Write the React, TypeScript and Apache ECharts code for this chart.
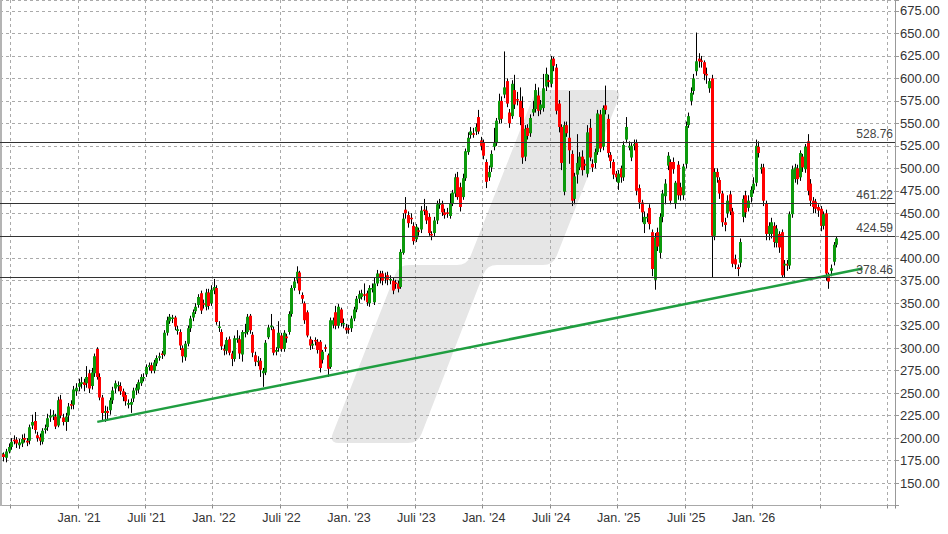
import React, { useEffect, useRef } from "react";
import * as echarts from "echarts";

// ---------- data ----------
// weekly candles: [open, close, low, high]
const candlesA: number[][] = [
  [179,183,176,186],[182,179,174,184],[178,185,173,188],[185,190,183,194],[190,196,187,200],
  [198,197,193,203],[198,194,189,201],[192,195,188,199],[194,199,190,204],[200,198,195,205],
  [197,195,191,200],[197,212,193,215],[214,218,210,226],[219,209,205,229],[203,200,196,207],
  [201,197,192,205],[196,208,193,211],[209,211,205,215],[212,222,208,227],[223,225,218,232],
  [224,226,220,231],[224,213,210,227],[214,242,212,246],[243,225,222,248],[223,218,214,227],
  [218,224,208,228],[225,235,218,239],[238,236,232,242],[237,254,232,258],[252,256,247,261],
];
const candlesB: number[][] = [
  [257,261,252,266],[260,262,255,268],[262,259,252,266],[261,268,256,280],[272,255,250,276],
  [258,273,254,278],[272,291,268,294],[299,268,265,301],[268,245,242,272],[245,228,220,248],
  [228,230,218,236],[230,228,221,235],[231,242,226,245],[242,253,238,257],[255,261,250,264],
  [258,259,252,263],[258,252,248,262],[252,246,241,255],[248,241,236,251],[237,239,233,243],
  [237,240,228,244],[244,253,240,256],[253,256,248,260],[254,262,250,265],[261,268,258,271],
  [267,268,263,272],[271,279,268,282],[279,281,275,284],[281,275,272,284],[275,284,272,287],
  [283,289,280,292],[290,291,286,295],[294,293,288,297],[293,317,291,320],[317,331,314,335],
  [330,335,327,338],[333,334,328,337],[334,324,320,336],[319,321,315,325],[318,303,298,321],
  [300,291,284,303],[290,305,286,308],[305,322,302,325],[322,333,318,336],[334,340,330,343],
  [341,346,338,350],[348,357,345,360],[361,342,338,364],[350,349,344,354],[346,362,342,366],
  [362,347,343,366],[350,365,347,370],
];
const candlesC: number[][] = [
  [364,368,360,377],[367,329,326,370],[323,324,318,330],[318,302,298,321],[299,298,292,304],
  [297,309,293,312],[310,295,292,313],[294,288,280,297],[288,311,285,314],[310,311,306,320],
  [310,294,288,314],[293,318,285,320],[317,318,312,327],[318,335,315,338],[336,320,316,338],
  [315,295,290,318],[292,285,280,296],[286,286,280,291],[286,276,268,289],[272,275,257,278],
  [273,306,270,309],[312,323,310,326],[324,325,320,338],[321,295,292,324],[296,298,292,301],
  [300,317,296,330],[314,299,296,317],[299,317,296,320],[313,311,306,316],[318,338,315,341],
  [338,367,335,370],[367,374,364,378],[376,385,372,391],[384,364,360,386],[359,355,350,362],
  [350,331,327,352],[340,314,312,342],[310,303,298,313],[303,305,299,309],[309,308,303,312],
  [307,298,294,310],[307,278,273,309],[287,296,283,298],[301,300,296,304],[292,277,268,294],
  [279,331,277,334],[326,331,322,334],[340,325,321,347],[325,346,322,349],[343,328,324,345],
  [327,328,322,333],[323,320,316,327],
];
const candlesD: number[][] = [
  [322,321,316,326],[322,333,318,336],[333,343,330,346],[343,355,340,358],[355,360,350,364],
  [357,361,354,365],[360,359,353,372],[361,351,347,364],[350,367,346,370],[366,367,362,372],
  [351,372,348,378],[372,383,369,387],[383,378,372,386],[383,375,370,386],[378,379,372,384],
  [381,376,370,385],[377,377,371,381],[375,364,360,378],[373,372,366,376],[372,366,362,375],
  [368,407,366,410],[406,444,404,450],[454,450,444,468],[448,439,434,452],[445,444,438,450],
  [436,419,415,440],[421,435,418,438],[431,430,425,434],[432,453,428,458],[454,453,448,466],
  [453,442,438,458],[446,428,425,450],[427,426,420,430],[428,442,424,446],[442,460,438,464],
  [460,461,455,466],[460,451,447,464],[451,448,444,455],[451,450,445,456],[447,461,444,472],
  [461,473,458,476],[472,490,468,494],[490,468,465,496],[479,457,452,484],[468,489,465,494],
  [489,519,486,522],[518,534,515,540],[537,541,533,546],[539,538,534,545],[541,546,537,550],
  [557,541,538,565],[531,525,520,535],
];
const candlesE: number[][] = [
  [529,514,510,532],[507,485,478,510],[490,496,486,503],[501,516,496,520],[524,528,520,545],
  [528,553,525,556],[554,575,550,583],[575,555,550,580],[582,590,578,630],[597,572,568,600],
  [562,550,545,566],[558,594,555,598],[587,571,566,604],[577,576,570,585],[575,557,548,590],
  [567,512,505,580],[513,544,508,548],[545,536,532,549],[539,556,535,560],[562,566,558,575],
  [566,587,562,594],[581,564,558,590],[565,571,560,576],[567,589,563,605],[591,605,586,612],
  [598,596,590,604],[594,621,590,625],[622,614,608,624],[612,564,560,616],[572,546,540,576],
  [546,506,498,549],[474,548,470,552],[548,539,535,552],[534,520,505,586],[516,464,458,520],
  [466,491,460,495],[493,506,483,538],[501,513,498,518],[513,498,492,520],[505,503,498,510],
  [494,540,490,548],[545,512,508,555],[505,501,496,510],[506,518,500,522],[518,561,515,565],
  [560,522,518,565],[524,567,520,570],[570,565,560,592],[555,517,512,560],[515,508,500,518],
  [507,493,488,510],[494,490,485,497],
];
const candlesF: number[][] = [
  [484,494,476,498],[500,490,484,503],[490,526,486,530],[532,546,528,557],[523,525,520,530],
  [512,525,508,528],[525,527,520,532],[528,475,470,532],[478,462,455,482],[462,451,440,465],
  [438,446,428,452],[446,446,440,450],[456,438,432,460],[429,388,380,432],[376,423,365,428],
  [429,413,408,434],[406,446,400,450],[446,472,440,476],[469,483,460,488],[503,514,498,518],
  [507,464,460,510],[507,499,494,512],[461,484,455,486],[504,470,465,508],[479,470,464,484],
  [470,502,465,505],[505,547,500,552],[548,558,545,562],[575,584,570,590],[586,600,582,605],
  [608,619,603,651],[622,619,612,628],[620,619,612,625],[618,605,598,620],[605,604,594,612],
  [589,597,584,600],[600,425,379,604],[425,496,420,500],[496,490,484,500],[487,472,466,490],
  [472,440,435,475],[440,437,430,445],[450,464,445,470],[471,452,448,475],[452,394,390,456],
  [399,393,388,404],[390,388,380,393],[395,418,390,422],[446,466,440,470],[470,451,445,475],
  [456,464,452,470],[468,476,462,480],
];
const candlesG: number[][] = [
  [476,483,472,490],[484,525,480,532],[524,517,512,530],[499,501,494,505],[501,464,458,505],
  [461,427,420,464],[427,436,420,440],[427,440,422,445],[436,418,412,440],[417,433,412,437],
  [427,412,406,430],[429,381,378,432],[392,394,379,398],[394,392,386,398],[392,449,388,452],
  [449,499,445,503],[488,501,484,505],[500,488,482,504],[490,517,486,520],[513,501,496,516],
  [499,524,495,527],[530,475,470,538],[483,464,458,488],[464,457,450,468],[463,455,450,466],
  [457,453,446,460],[455,436,430,458],[436,449,432,452],[450,383,375,454],[381,374,366,384],
  [386,389,380,393],[396,415,392,418],[415,422,412,424],
];

const allCandles = [
  ...candlesA, ...candlesB, ...candlesC, ...candlesD, ...candlesE, ...candlesF, ...candlesG,
];

// weekly categories (the axis runs a little past the last candle)
const CATEGORY_COUNT = 345;
const START = Date.UTC(2020, 5, 1);
const categories: string[] = [];
for (let k = 0; k < CATEGORY_COUNT; k++) {
  categories.push(new Date(START + k * 7 * 86400000).toISOString().slice(0, 10));
}

// half-year grid positions (category index) and their labels
const xTickIndex = [4, 30, 56, 82, 108, 134, 160, 186, 212, 238, 264, 290, 316, 342];
const xTickLabels = [
  "", "Jan. '21", "Juli '21", "Jan. '22", "Juli '22", "Jan. '23", "Juli '23",
  "Jan. '24", "Juli '24", "Jan. '25", "Juli '25", "Jan. '26", "", "",
];

// horizontal levels
const levels = [528.76, 461.22, 424.59, 378.46];

// support trend line: [category index, price]
const trendPoints = [
  [37, 218],
  [332, 388.5],
];

const GREEN = "#0c990c";
const RED = "#ff0000";
const FONT = 'Arial, "Liberation Sans", sans-serif';

const LOGO_PATH =
  "M 546 90 L 612 90 Q 622 90 618.3 99.3 L 556.7 255.7 Q 553 265 543 265 L 497 265 " +
  "Q 487 265 483.4 274.3 L 421.6 433.7 Q 418 443 408 443 L 339 443 Q 329 443 332.7 433.7 " +
  "L 395.3 274.3 Q 399 265 409 265 L 457 265 Q 467 265 470.7 255.7 L 532.3 99.3 Q 536 90 546 90 Z";

let logoRegistered = false;
function ensureLogo() {
  if (logoRegistered) return;
  echarts.graphic.registerShape("wmLogo", echarts.graphic.extendPath(LOGO_PATH, {}) as any);
  logoRegistered = true;
}

const isTick = (index: number) => xTickIndex.indexOf(index) >= 0;

export default function App() {
  const ref = useRef<HTMLDivElement>(null);

  useEffect(() => {
    if (!ref.current) return;
    ensureLogo();
    const chart = echarts.init(ref.current, undefined, { renderer: "svg" });

    const candleData = allCandles.map((d, i) => [i, d[0], d[1], d[2], d[3]]);

    const option: any = {
      animation: false,
      backgroundColor: "#ffffff",
      grid: { left: 0, right: 53, top: -1, bottom: 28.5, containLabel: false },
      graphic: [
        {
          type: "wmLogo",
          x: 0,
          y: 0,
          scaleX: 1,
          scaleY: 1,
          z: -10,
          silent: true,
          style: { fill: "#e6e6e6" },
        },
        {
          type: "rect",
          shape: { x: 0, y: 0, width: 2, height: 506 },
          style: { fill: "#b4b4b4" },
          z: 5,
          silent: true,
        },
      ],
      xAxis: {
        type: "category",
        data: categories,
        boundaryGap: true,
        axisLine: { show: true, lineStyle: { color: "#a8a8a8", width: 1 } },
        axisTick: {
          show: true,
          interval: (index: number) => isTick(index),
          length: 3,
          lineStyle: { color: "#888" },
        },
        axisLabel: {
          interval: (index: number) => isTick(index),
          formatter: (_v: string, index: number) => {
            const k = xTickIndex.indexOf(index);
            return k >= 0 ? xTickLabels[k] : "";
          },
          color: "#333",
          fontSize: 12.5,
          fontFamily: FONT,
          margin: 6,
        },
        splitLine: {
          show: true,
          interval: (index: number) => isTick(index),
          lineStyle: { color: "#aaaaaa", type: [3, 3], width: 1 },
        },
      },
      yAxis: {
        type: "value",
        position: "right",
        min: 125,
        max: 687.2,
        interval: 25,
        axisLine: { show: true, lineStyle: { color: "#999", width: 1 } },
        axisTick: { show: true, length: 4, lineStyle: { color: "#999" } },
        axisLabel: {
          formatter: (v: number) =>
            v >= 150 && v <= 675 && Math.abs(v % 25) < 1e-6 ? v.toFixed(2) : "",
          color: "#333",
          fontSize: 13,
          fontFamily: FONT,
          margin: 5,
        },
        splitLine: {
          show: true,
          lineStyle: { color: "#aaaaaa", type: [3, 3], width: 1 },
        },
      },
      series: [
        {
          type: "custom",
          name: "candles",
          data: candleData,
          encode: { x: 0, y: [1, 2, 3, 4] },
          clip: true,
          z: 2,
          renderItem: (_params: any, api: any) => {
            const idx = api.value(0);
            const o = api.value(1);
            const c = api.value(2);
            const l = api.value(3);
            const h = api.value(4);
            const pO = api.coord([idx, o]);
            const pC = api.coord([idx, c]);
            const pL = api.coord([idx, l]);
            const pH = api.coord([idx, h]);
            const xr = Math.round(pO[0] - 0.5);
            const top = Math.min(pO[1], pC[1]);
            const hgt = Math.max(1.5, Math.abs(pO[1] - pC[1]));
            return {
              type: "group",
              children: [
                {
                  type: "line",
                  shape: { x1: xr + 0.5, y1: pH[1], x2: xr + 0.5, y2: pL[1] },
                  style: { stroke: "#000", lineWidth: 1 },
                },
                {
                  type: "rect",
                  shape: { x: xr - 1, y: top, width: 3, height: hgt },
                  style: { fill: c >= o ? GREEN : RED },
                },
              ],
            };
          },
        },
        {
          type: "line",
          name: "trend",
          data: trendPoints.map((p) => [categories[p[0]], p[1]]),
          symbol: "none",
          showSymbol: false,
          z: 4,
          lineStyle: { color: "#1f9e40", width: 2.5 },
          markLine: {
            silent: true,
            symbol: ["none", "none"],
            lineStyle: { color: "#333", width: 1.2, type: "solid" },
            label: {
              show: true,
              position: "insideEndTop",
              formatter: (p: any) => Number(p.value).toFixed(2),
              color: "#444",
              fontSize: 12,
              fontFamily: FONT,
              distance: [2, 2],
            },
            data: levels.map((v) => ({ yAxis: v })),
          },
        },
      ],
    };

    chart.setOption(option);
    return () => chart.dispose();
  }, []);

  return (
    <div
      ref={ref}
      style={{ position: "absolute", left: 0, top: 0, width: 948, height: 534, background: "#fff" }}
    />
  );
}
